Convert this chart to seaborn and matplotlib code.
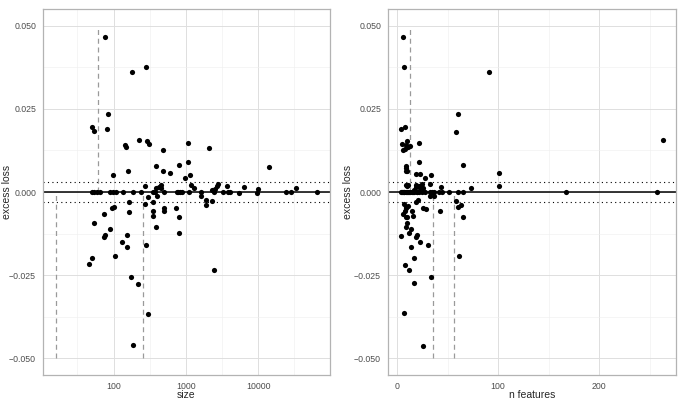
import numpy as np
import pandas as pd
import matplotlib
matplotlib.use('Agg')
import matplotlib.pyplot as plt
import matplotlib.ticker as mticker
import seaborn as sns

# 左图: size 与 excess loss
size_vals = [75, 181, 279, 85, 51, 53, 80, 145, 148, 226, 291, 314, 479, 1059, 2089,
             98, 156, 384, 484, 605, 797, 1059, 1153, 964, 14030,
             268, 385, 459, 420, 454, 1166, 1285, 2530, 2692, 2750, 3733, 6474, 10000, 33800, 2271,
             50, 53, 59, 64, 90, 98, 107, 134, 185, 238, 349, 376, 500, 748, 789, 832, 886,
             1107, 1603, 2450, 3290, 3775, 4064, 5470, 9590, 24600, 28840, 65200,
             166, 276, 301, 349, 396, 1603, 1880, 1897, 2296, 96, 102, 74, 53, 166, 349, 349,
             505, 505, 731, 797, 797, 388, 89, 77, 74, 153, 132, 153, 282, 104, 50, 46, 2450,
             175, 217, 301, 185]
size_loss = [0.0466, 0.0361, 0.0377, 0.0235, 0.0196, 0.0182, 0.0188, 0.0140, 0.0136, 0.0155,
             0.0154, 0.0144, 0.0125, 0.0146, 0.0132,
             0.0051, 0.0064, 0.0079, 0.0063, 0.0057, 0.0082, 0.0089, 0.0052, 0.0041, 0.0074,
             0.0019, 0.0013, 0.0022, 0.0016, 0.0013, 0.0022, 0.0012, 0.0010, 0.0019, 0.0024,
             0.0019, 0.0014, 0.0008, 0.0013, 0.0005,
             0, 0, 0, 0, 0, 0, 0, 0, 0, 0, 0, 0, 0, 0, 0, 0, 0,
             0, 0, 0, 0, 0, 0, -0.0003, -0.0003, 0, 0, 0,
             -0.0030, -0.0036, -0.0016, -0.0029, -0.0013, -0.0012, -0.0024, -0.0039, -0.0028,
             -0.0048, -0.0046, -0.0066, -0.0092, -0.0059, -0.0057, -0.0072,
             -0.0048, -0.0058, -0.0047, -0.0074, -0.0124, -0.0104, -0.0112, -0.0128, -0.0134,
             -0.0130, -0.0150, -0.0165, -0.0158, -0.0192, -0.0197, -0.0217, -0.0234,
             -0.0256, -0.0275, -0.0366, -0.0461]

# 右图: n features 与 excess loss
nfeat_vals = [6, 7, 91, 60, 8, 4, 58, 263, 10, 5.3, 22, 8.6, 10.6, 13.2, 8, 6,
              22, 65, 8.6, 9.2, 9.9, 9, 19, 23, 34, 101, 28,
              101, 33, 73, 43, 9.2, 11.2, 19.1, 21.8, 24.4, 25.7, 18.5, 22.4, 16.5, 10,
              4, 4.6, 5.9, 7.3, 9.2, 11.2, 13.2, 15.2, 17.2, 19.8, 21.8, 24.4, 27.7, 33, 35, 37,
              41.6, 44.2, 51, 60.7, 65.3, 167, 257, 6.6, 10, 12, 16, 20,
              32.3, 37, 25.7, 29, 42, 58, 60.7, 63.4, 65, 60.8, 31, 33.7, 17.2, 7.3, 25.8,
              4, 8, 11.9, 17.2, 13.9, 23.1, 19, 19.8, 11.9, 13.9, 9.2, 9.9, 8.6, 9.9, 5.6,
              7.9, 6.6, 9.2, 15.8, 15.2, 18.5, 21, 11.2, 8.6]
nfeat_loss = [0.0466, 0.0377, 0.0361, 0.0235, 0.0195, 0.0188, 0.0181, 0.0155, 0.0154, 0.0144,
              0.0146, 0.0140, 0.0136, 0.0138, 0.0130, 0.0125,
              0.0089, 0.0082, 0.0079, 0.0071, 0.0064, 0.0063, 0.0053, 0.0053, 0.0051, 0.0058, 0.0041,
              0.0019, 0.0023, 0.0012, 0.0014, 0.0021, 0.0022, 0.0022, 0.0018, 0.0024, 0.0012,
              0.0016, 0.0012, 0.0006, 0.0019,
              0, 0, 0, 0, 0, 0, 0, 0, 0, 0, 0, 0, 0, 0, 0, 0,
              0, 0, 0, 0, 0, 0, 0, 0, 0, 0, 0, 0,
              -0.0012, -0.0012, -0.0048, -0.0052, -0.0058, -0.0028, -0.0044, -0.0038, -0.0075,
              -0.0192, -0.0158, -0.0256, -0.0274, -0.0364, -0.0462,
              -0.0131, -0.0218, -0.0234, -0.0198, -0.0164, -0.0150, -0.0136, -0.0130, -0.0124,
              -0.0112, -0.0104, -0.0092, -0.0074, -0.0074, -0.0066,
              -0.0058, -0.0036, -0.0046, -0.0072, -0.0058, -0.0030, -0.0024, -0.0041, -0.0048]

# 虚线竖线 (x, y起点, y终点)
size_vlines = [(61, 0, 0.05), (16, -0.05, 0), (254, -0.05, 0)]
nfeat_vlines = [(13.3, 0, 0.05), (36, -0.05, 0), (56.8, -0.05, 0)]
tol = 0.003

df_size = pd.DataFrame({'size': size_vals, 'excess loss': size_loss})
df_nfeat = pd.DataFrame({'n features': nfeat_vals, 'excess loss': nfeat_loss})

sns.set_theme(style='white')
plt.rcParams['font.family'] = ['Liberation Sans', 'DejaVu Sans']
plt.rcParams['axes.unicode_minus'] = True

fig = plt.figure(figsize=(6.8, 4), dpi=100)
ax1 = fig.add_axes([43 / 680, 25 / 400, 287 / 680, 366 / 400])
ax2 = fig.add_axes([388 / 680, 25 / 400, 288 / 680, 366 / 400])


def style_axis(ax, ylab_x):
    for sp in ax.spines.values():
        sp.set_color('#b3b3b3')
        sp.set_linewidth(0.9)
    ax.grid(True, which='major', color='#dedede', linewidth=0.7, zorder=0)
    ax.grid(True, which='minor', color='#eeeeee', linewidth=0.4, zorder=0)
    ax.set_axisbelow(True)
    ax.tick_params(which='major', length=3, width=0.7, color='#333333',
                   labelsize=6.3, labelcolor='#4d4d4d', pad=2)
    ax.tick_params(which='minor', length=0)
    ax.set_ylim(-0.055, 0.055)
    ax.set_yticks([-0.05, -0.025, 0, 0.025, 0.05])
    ax.yaxis.set_minor_locator(mticker.FixedLocator([-0.0375, -0.0125, 0.0125, 0.0375]))
    ax.yaxis.set_major_formatter(mticker.FuncFormatter(lambda v, p: f'{v:.3f}'.replace('-', '\u2212')))
    ax.set_ylabel('excess loss', fontsize=7.5)
    ax.yaxis.set_label_coords(ylab_x, 0.5)


def ref_lines(ax, vlines):
    ax.axhline(0, color='black', linewidth=1.1, zorder=2)
    ax.axhline(tol, color='black', linewidth=0.8, linestyle=(0, (1, 3)), zorder=2)
    ax.axhline(-tol, color='black', linewidth=0.8, linestyle=(0, (1, 3)), zorder=2)
    for x, y0, y1 in vlines:
        ax.plot([x, x], [y0, y1], color='#9a9a9a', linewidth=0.9, linestyle=(0, (4, 3)), zorder=2)


# 左图
style_axis(ax1, -0.108)
ref_lines(ax1, size_vlines)
sns.scatterplot(data=df_size, x='size', y='excess loss', ax=ax1, color='black',
                s=14, linewidth=0, zorder=3)
ax1.set_xscale('log')
lo = np.log10(min(min(size_vals), min(v[0] for v in size_vlines)))
hi = np.log10(max(size_vals))
pad = (hi - lo) * 0.05
ax1.set_xlim(10 ** (lo - pad), 10 ** (hi + pad))
ax1.xaxis.set_major_locator(mticker.FixedLocator([100, 1000, 10000]))
ax1.xaxis.set_major_formatter(mticker.FixedFormatter(['100', '1000', '10000']))
ax1.xaxis.set_minor_locator(mticker.FixedLocator([10 ** 1.5, 10 ** 2.5, 10 ** 3.5, 10 ** 4.5]))
ax1.xaxis.set_minor_formatter(mticker.NullFormatter())
ax1.set_xlabel('size', fontsize=7.5)
ax1.xaxis.set_label_coords(0.5, -0.042)

# 右图
style_axis(ax2, -0.122)
ref_lines(ax2, nfeat_vlines)
sns.scatterplot(data=df_nfeat, x='n features', y='excess loss', ax=ax2, color='black',
                s=14, linewidth=0, zorder=3)
lo = min(nfeat_vals)
hi = max(nfeat_vals)
pad = (hi - lo) * 0.05
ax2.set_xlim(lo - pad, hi + pad)
ax2.set_xticks([0, 100, 200])
ax2.xaxis.set_minor_locator(mticker.FixedLocator([50, 150, 250]))
ax2.set_xlabel('n features', fontsize=7.5)
ax2.xaxis.set_label_coords(0.5, -0.042)

fig.savefig('out.png', dpi=100)
